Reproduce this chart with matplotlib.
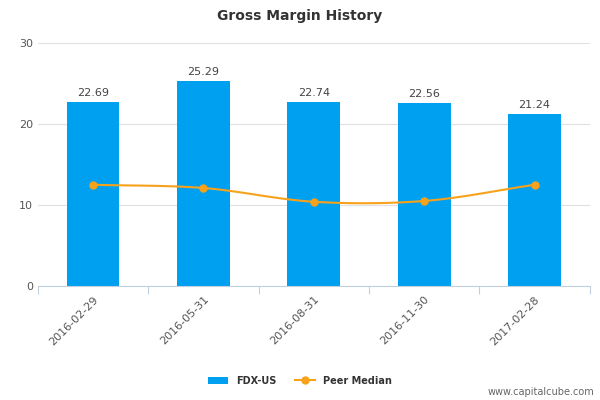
import numpy as np
import matplotlib.pyplot as plt

# ----- Data -----
dates = ["2016-02-29", "2016-05-31", "2016-08-31", "2016-11-30", "2017-02-28"]
fdx_values = [22.69, 25.29, 22.74, 22.56, 21.24]
peer_median = [12.5, 12.1, 10.4, 10.5, 12.5]
y_ticks = [0, 10, 20, 30]

bar_color = "#00a0f0"
line_color = "#f7a21b"

fig = plt.figure(figsize=(6, 4), dpi=100)
ax = fig.add_axes([0.063, 0.285, 0.92, 0.6075])

x = np.arange(len(dates))
bars = ax.bar(x, fdx_values, width=0.48, color=bar_color, zorder=2)
for xi, v in zip(x, fdx_values):
    ax.text(xi, v + 0.5, f"{v:.2f}", ha="center", va="bottom", fontsize=8, color="#444444")

# smooth curve through peer median points (cubic Hermite, Catmull-Rom tangents)
p = np.array(peer_median, dtype=float)
m = np.gradient(p)
xs, ys = [], []
for i in range(len(p) - 1):
    t = np.linspace(0, 1, 30)
    h00 = 2*t**3 - 3*t**2 + 1
    h10 = t**3 - 2*t**2 + t
    h01 = -2*t**3 + 3*t**2
    h11 = t**3 - t**2
    xs.extend(i + t)
    ys.extend(h00*p[i] + h10*m[i] + h01*p[i+1] + h11*m[i+1])
ax.plot(xs, ys, color=line_color, lw=1.5, zorder=3)
ax.plot(x, p, "o", color=line_color, ms=5, zorder=4)
line_handle, = ax.plot([], [], "-o", color=line_color, ms=5)

ax.set_xlim(-0.5, len(dates) - 0.5)
ax.set_ylim(0, 30)
ax.set_yticks(y_ticks)
ax.tick_params(axis="y", length=0, labelsize=8, colors="#555555")
ax.set_xticks(np.arange(len(dates) + 1) - 0.5, minor=False)
ax.set_xticklabels([])
ax.set_xticks(x, minor=True)
ax.set_xticklabels(dates, minor=True, rotation=45, ha="right", rotation_mode="anchor",
                   fontsize=8, color="#555555")
ax.tick_params(axis="x", which="major", length=6, color="#c0d0e0")
ax.tick_params(axis="x", which="minor", length=0, pad=6)
for s in ["top", "right", "left"]:
    ax.spines[s].set_visible(False)
ax.spines["bottom"].set_color("#c0d0e0")
ax.grid(axis="y", color="#e0e0e0", lw=0.8, zorder=0)
ax.set_axisbelow(True)

fig.text(0.5, 0.96, "Gross Margin History", ha="center", va="center",
         fontsize=10, fontweight="bold", color="#333333")

leg = fig.legend([bars, line_handle], ["FDX-US", "Peer Median"], loc="center",
                 bbox_to_anchor=(0.5, 0.048), ncol=2, frameon=False,
                 fontsize=7, handlelength=2, columnspacing=2)
for t in leg.get_texts():
    t.set_fontweight("bold")
    t.set_color("#333333")

fig.text(0.99, 0.02, "www.capitalcube.com", ha="right", va="center", fontsize=7, color="#666666")

fig.savefig("out.png", dpi=100)
